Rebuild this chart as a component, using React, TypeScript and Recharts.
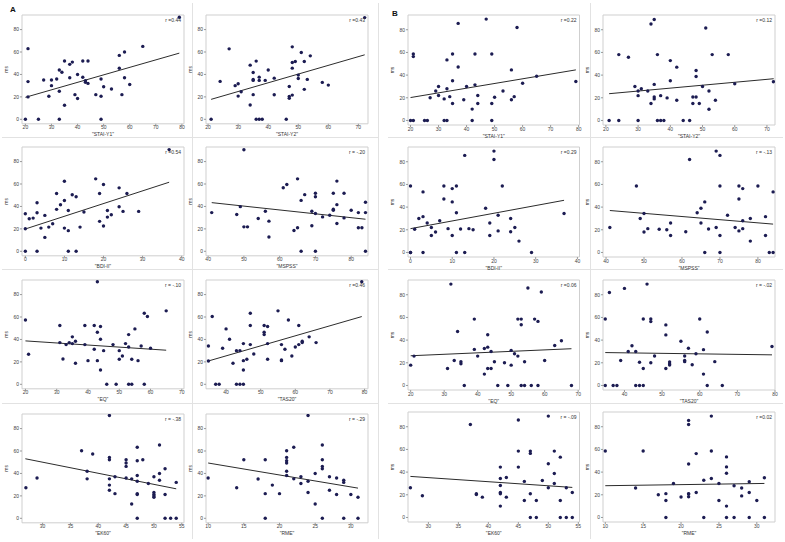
import React from 'react';
import { ScatterChart, Scatter, XAxis, YAxis, ReferenceLine, ReferenceArea, Label } from 'recharts';

type Pt = [number, number];

// ---------- Panel A (ms vs questionnaire scores) ----------
const staiY1VsMsA: Pt[] = [
  [79, 91], [21, 63], [21, 33.6], [21, 20], [20, 0], [25, 0], [27, 35], [29, 20.5], [30, 35], [30, 30],
  [32, 36], [33, 44], [33, 25], [33, 0], [34, 42], [35, 52], [35, 12.5], [37, 49], [37, 37], [38, 51],
  [39, 22], [40, 40], [40, 18.5], [42, 52], [42, 37.5], [43, 34.5], [43, 33], [44, 52], [44, 32], [47, 22],
  [49, 36], [49, 20.5], [49, 0], [50, 29], [53, 27], [56, 57], [56, 45.5], [57, 22], [58, 60], [58, 37],
  [60, 31], [65, 65],
];
const staiY2VsMsA: Pt[] = [
  [72.1, 90.7], [21, 0], [24, 33.8], [27, 62.8], [29, 30], [30, 31.7], [30, 20.7], [31, 24.6], [34, 48.3], [34, 12.7],
  [35, 41.8], [35, 35.6], [35, 34.7], [35, 22], [36, 51.9], [36, 0], [37, 37.6], [37, 34.7], [37, 0], [38, 0],
  [39, 34.7], [40, 43.9], [42, 36.7], [42, 21.9], [46, 0], [47, 29.3], [47, 20.4], [47, 18.7], [48, 64.6], [48, 50.7],
  [48, 45.6], [48, 21.6], [49, 51.6], [50, 36.4], [50, 39.4], [51, 59.6], [52, 51.6], [52, 26.7], [53, 35.6], [54, 56.6],
  [58, 32.9], [60, 30.5],
];
const bdiVsMsA: Pt[] = [
  [36.8, 90.7], [0, 33.5], [0, 20.1], [0, 0], [1, 29], [2, 29.6], [3, 43.3], [3, 34.4], [3, 0], [4, 20.7],
  [5, 32], [5, 12.4], [6, 21.6], [7, 24.6], [8, 51.6], [8, 37.4], [9, 41.5], [10, 62.5], [10, 45.3], [10, 20.7],
  [11, 36.4], [11, 18.4], [11, 0], [12, 50.4], [13, 48.6], [13, 0], [14, 21.6], [15, 35], [18, 64.6], [19, 51.6],
  [19, 26.7], [20, 59.6], [20, 22.5], [21, 36.4], [21, 30.5], [22, 32.6], [24, 56.6], [24, 39.7], [25, 35.6], [26, 51.6],
  [29, 35.6],
];
const mspssVsMsA: Pt[] = [
  [50, 90.6], [41, 34.5], [48, 32.8], [49, 39.8], [50, 21.8], [51, 21.8], [54, 29.2], [56, 35.7], [57, 26.9], [57, 12.7],
  [61, 56.7], [62, 59.6], [64, 18.6], [65, 64.6], [65, 21], [66, 45.4], [66, 0], [67, 50.5], [69, 35.7], [69, 22.8],
  [70, 51.7], [70, 48.7], [70, 33.7], [70, 0], [72, 30.7], [74, 32.2], [75, 51.7], [75, 37.5], [75, 36.6], [76, 62.6],
  [76, 41.6], [76, 24.8], [78, 51.7], [78, 29.8], [80, 36.6], [82, 34.5], [82, 21], [83, 21], [84, 43.7], [84, 34.5],
  [84, 0],
];
const eqVsMsA: Pt[] = [
  [43, 91.4], [20, 57.4], [21, 26.8], [31, 52.4], [31, 37.2], [32, 22.6], [33, 35.4], [34, 37.2], [35, 42.3], [35, 36.3],
  [36, 38.4], [36, 18.8], [39, 52.4], [39, 35.4], [40, 21.1], [42, 52.4], [42, 31.2], [43, 46.4], [43, 21.1], [44, 51.5],
  [44, 40.2], [44, 12.8], [45, 30], [46, 0], [48, 35.4], [49, 0], [50, 30], [50, 22.3], [51, 25.3], [52, 36.3],
  [53, 44.3], [53, 33.3], [53, 0], [54, 0], [54, 22.3], [55, 49.4], [56, 21.1], [57, 34.2], [58, 0], [58, 63.4],
  [59, 60.4], [60, 32.1], [65, 65.5],
];
const tas20VsMsA: Pt[] = [
  [79.2, 91.4], [34.9, 34.2], [34.9, 20.8], [36, 60.4], [37, 0], [38, 0], [39, 32.1], [40, 49.4], [41, 40.2], [42, 18.8],
  [43, 0], [43, 30], [44, 0], [44, 30], [45, 36.3], [45, 21.1], [45, 12.8], [45, 0], [46, 22.3], [47, 63.4],
  [47, 52.4], [47, 35.4], [48, 27], [51, 52.4], [51, 46.4], [51, 44.3], [52, 51.5], [52, 36.3], [52, 22.3], [55, 65.5],
  [56, 35.4], [56, 21.7], [56, 21.1], [57, 31.2], [58, 57.4], [59, 25.3], [60, 33.3], [61, 52.4], [61, 35.4], [62, 37.2],
  [62, 38.4], [64, 42.3], [66, 37.2],
];
const ek60VsMsA: Pt[] = [
  [42, 91.6], [27, 27.2], [29, 36], [37, 60.3], [39, 57.3], [38, 42], [38, 35.2], [42, 54.3], [42, 52.2], [42, 35.2],
  [42, 29.6], [42, 25], [43, 37], [43, 22], [45, 52.2], [45, 49.3], [45, 46.3], [45, 36], [46, 12.8], [46, 35.2],
  [47, 63.3], [47, 51.3], [47, 38.2], [47, 33.1], [47, 22], [47, 21.2], [47, 0], [48, 52.2], [49, 31], [50, 37],
  [50, 23], [50, 21.2], [50, 20], [50, 18.8], [51, 65.4], [51, 40], [51, 34], [52, 44.2], [52, 21.2], [52, 0],
  [53, 0], [54, 32], [54, 0],
];
const rmeVsMsA: Pt[] = [
  [24, 91.6], [10, 36], [14, 27.2], [15, 52.2], [17, 35], [18, 52.2], [18, 22], [18, 0], [19, 29.6], [20, 22],
  [21, 60.3], [21, 54.3], [21, 51.3], [21, 49.3], [21, 42], [21, 38.2], [22, 63.3], [22, 35.2], [23, 37], [23, 31],
  [24, 33.1], [24, 23], [25, 40], [25, 12.8], [26, 65.4], [26, 52.2], [26, 46.3], [26, 44.2], [26, 0], [27, 37],
  [27, 25], [28, 36], [28, 21.2], [29, 34], [29, 32], [29, 0], [30, 21.2], [31, 18.8], [31, 0],
];

// ---------- Panel B ----------
const staiY1VsMsB: Pt[] = [
  [20, 0], [21, 0], [21, 58.6], [21, 56.3], [25, 0], [26, 0], [27, 20], [29, 26], [30, 30], [30, 22],
  [32, 19], [32, 0], [33, 53.4], [33, 27.9], [33, 0], [34, 21], [35, 35], [35, 58.6], [35, 15], [37, 85.6],
  [37, 47.2], [39, 18.2], [40, 30], [42, 10], [42, 0], [43, 58.6], [43, 31.4], [44, 22], [44, 15], [47, 89.4],
  [49, 58.6], [49, 15], [49, 0], [50, 20.5], [53, 26], [56, 44.6], [56, 18.2], [57, 21], [58, 82], [60, 32.8],
  [65, 39], [79, 34.3],
];
const staiY2VsMsB: Pt[] = [
  [21, 0], [24, 0], [24, 58.1], [27, 55.8], [29, 30], [30, 26], [30, 21.9], [30, 0], [31, 28], [33, 26],
  [34, 14.9], [34, 85], [35, 89], [35, 31.8], [35, 20.7], [35, 19], [36, 58.1], [36, 0], [37, 21.9], [37, 0],
  [38, 0], [39, 19.9], [40, 52.8], [40, 35], [42, 47], [42, 17.8], [44, 0], [46, 0], [47, 20.7], [47, 14.9],
  [48, 44], [48, 38.8], [48, 20.7], [49, 14.9], [50, 30], [51, 81.5], [52, 26], [52, 9.9], [53, 58.1], [54, 17.8],
  [58, 58.1], [60, 32.4], [72, 34.2],
];
const bdiVsMsB: Pt[] = [
  [36.8, 34.3], [0, 58.6], [0, 0], [0, 0], [1, 20.5], [2, 30], [3, 53.4], [3, 31.6], [3, 0], [4, 26],
  [5, 22], [5, 15], [6, 18], [7, 28], [8, 58.6], [8, 47.2], [9, 21], [10, 56.3], [10, 44.6], [10, 15],
  [11, 58.6], [11, 35], [11, 0], [12, 20.7], [13, 85.6], [13, 0], [14, 21], [15, 20], [18, 39], [19, 15],
  [19, 26], [20, 82], [20, 89.4], [21, 19], [21, 32.8], [22, 58.6], [24, 18.2], [24, 30], [25, 22], [26, 10],
  [29, 0],
];
const mspssVsMsB: Pt[] = [
  [50, 34.3], [41, 22], [48, 58.6], [49, 30], [50, 18], [51, 21], [54, 20.5], [56, 20], [57, 26], [57, 15],
  [61, 18.2], [62, 82], [64, 35], [65, 39], [65, 26], [66, 44.6], [66, 0], [67, 20.7], [69, 22], [69, 89.4],
  [70, 15], [70, 85.6], [70, 58.6], [70, 0], [72, 32.8], [74, 22], [75, 58.6], [75, 47.2], [75, 19], [76, 56.3],
  [76, 21], [76, 28], [78, 10], [78, 30], [80, 58.6], [82, 31.6], [82, 15], [83, 0], [84, 53.4], [84, 0],
];
const eqVsMsB: Pt[] = [
  [20, 17.9], [21, 25.9], [31, 15], [32, 89.4], [33, 22], [34, 47.6], [35, 20.9], [35, 19.1], [36, 0], [39, 58.5],
  [39, 31.8], [40, 25.9], [42, 32.6], [42, 10], [43, 44.7], [43, 33.8], [43, 15], [44, 30], [44, 15], [45, 20.9],
  [46, 0], [48, 20], [49, 0], [50, 30.9], [50, 17.9], [51, 27.9], [52, 25.9], [52, 58.5], [53, 58.5], [53, 53.5],
  [53, 0], [54, 20.9], [54, 0], [55, 85.9], [56, 0], [57, 58.5], [58, 56.5], [58, 0], [59, 82.4], [60, 22],
  [63, 35.3], [65, 39.4], [68, 0],
];
const tas20VsMsB: Pt[] = [
  [79.2, 34.3], [34.9, 58.6], [34.9, 0], [36, 82], [37, 0], [38, 0], [39, 22], [40, 85.6], [41, 30], [42, 35],
  [43, 0], [43, 30], [44, 0], [44, 20.5], [45, 58.6], [45, 15], [45, 0], [46, 89.4], [47, 56.3], [47, 58.6],
  [47, 20], [48, 26], [51, 15], [51, 44.6], [51, 53.4], [52, 20.7], [52, 19], [52, 18], [55, 39], [56, 22],
  [56, 21], [56, 26], [57, 32.8], [58, 18.2], [59, 28], [60, 58.6], [61, 10], [61, 31.6], [62, 47.2], [62, 0],
  [64, 21], [66, 0],
];
const ek60VsMsB: Pt[] = [
  [27, 26.2], [29, 19.1], [37, 82], [38, 20.9], [38, 20.3], [39, 17.9], [42, 44.4], [42, 34.4], [42, 28.2], [42, 22],
  [42, 20.9], [42, 10], [43, 35.3], [43, 17.9], [45, 85.9], [45, 58.5], [45, 44.4], [46, 31.8], [46, 15], [47, 58.5],
  [47, 56.5], [47, 20.9], [47, 0], [48, 15], [48, 0], [49, 32.6], [50, 89.4], [50, 47.4], [50, 26.2], [51, 58.5],
  [51, 38.8], [51, 30], [52, 53.2], [52, 15], [52, 0], [53, 26.2], [53, 0], [54, 22], [54, 0],
];
const rmeVsMsB: Pt[] = [
  [24, 34.3], [10, 58.6], [14, 26], [15, 58.6], [17, 20], [18, 15], [18, 21], [18, 0], [19, 30], [20, 18],
  [21, 82], [21, 18.2], [21, 20.7], [21, 85.6], [21, 21], [21, 47.2], [22, 56.3], [22, 22], [23, 0], [23, 32.8],
  [24, 58.6], [24, 89.4], [25, 30], [25, 15], [26, 39], [26, 10], [26, 44.6], [26, 53.4], [26, 0], [27, 0],
  [27, 28], [28, 19], [28, 26], [29, 31.6], [29, 22], [29, 0], [30, 15], [31, 35], [31, 0],
];

// regression line endpoints [x1, y1, x2, y2]
const fitLines: [number, number, number, number][] = [
  [20, 19.6, 79, 59], [21, 17.8, 72.1, 57.5], [0, 19.9, 36.8, 61.6], [41, 43.4, 84, 28.6],
  [20, 38.7, 65, 30.4], [34.9, 20.8, 79.2, 60.4], [26.9, 53.1, 54, 26.3], [10, 49.3, 31, 26.9],
  [20, 20.2, 79, 44.6], [21, 23.6, 72.1, 36.8], [0, 21, 36.8, 46], [41, 37, 84, 25],
  [20, 26.2, 68, 32.4], [34.9, 29, 79.2, 27], [27, 36.2, 54, 26.5], [10, 28, 31, 30],
];
const rLabels = [
  'r =0.44', 'r =0.43', 'r =0.54', 'r = -.20', 'r = -.10', 'r =0.46', 'r = -.38', 'r = -.29',
  'r =0.22', 'r =0.12', 'r =0.29', 'r = -.13', 'r =0.06', 'r = -.02', 'r = -.09', 'r =0.02',
];
const varLabels = ['"STAI-Y1"', '"STAI-Y2"', '"BDI-II"', '"MSPSS"', '"EQ"', '"TAS20"', '"EK60"', '"RME"'];
const xTickSets: number[][] = [
  [20, 30, 40, 50, 60, 70, 80], [20, 30, 40, 50, 60, 70], [0, 10, 20, 30, 40], [40, 50, 60, 70, 80],
  [20, 30, 40, 50, 60, 70], [40, 50, 60, 70, 80], [30, 35, 40, 45, 50, 55], [10, 15, 20, 25, 30],
];
const xDomainsA: [number, number][] = [
  [18.7, 80.8], [19.3, 73.2], [-0.85, 40.6], [39.4, 84.7], [18.9, 70.7], [34.2, 81.0], [26.3, 55.4], [9.7, 32.4],
];
const xDomainsB: [number, number][] = [
  [19.1, 80.3], [19.1, 72.5], [-0.6, 40.5], [39.2, 84.5], [19.2, 70.4], [34.3, 80.0], [26.6, 55.2], [9.7, 32.4],
];
const yTicks = [0, 20, 40, 60, 80];
const yDomain: [number, number] = [-4, 93];

const seriesA = [staiY1VsMsA, staiY2VsMsA, bdiVsMsA, mspssVsMsA, eqVsMsA, tas20VsMsA, ek60VsMsA, rmeVsMsA];
const seriesB = [staiY1VsMsB, staiY2VsMsB, bdiVsMsB, mspssVsMsB, eqVsMsB, tas20VsMsB, ek60VsMsB, rmeVsMsB];

// layout
const colsA = [{ x: 22, w: 162 }, { x: 205.5, w: 162 }];
const colsB = [{ x: 407.5, w: 171.5 }, { x: 603, w: 172 }];
const rowsA = [15, 146.5, 280, 414];
const rowsB = [15, 147, 280, 412];
const hA = 108.8;
const hB = 110;

const ML = 20;
const MT = 4;
const MR = 4;
const XH = 14;
const FONT = 5;

const dot = (p: any) => <circle cx={p.cx} cy={p.cy} r={1.7} fill="#1c1c52" />;

const msLabel = (props: any) => {
  const vb = props.viewBox || {};
  const cx = vb.x + 4;
  const cy = vb.y + vb.height / 2;
  return (
    <text x={cx} y={cy} transform={`rotate(-90 ${cx} ${cy})`} textAnchor="middle" dominantBaseline="central" fontSize={FONT} fill="#333">
      ms
    </text>
  );
};

function Plot(props: {
  pts: Pt[]; line: [number, number, number, number]; r: string; label: string;
  xDomain: [number, number]; xTicks: number[]; fx: number; fy: number; fw: number; fh: number;
}) {
  const { pts, line, r, label, xDomain, xTicks, fx, fy, fw, fh } = props;
  const data = pts.map(([x, y]) => ({ x, y }));
  return (
    <div style={{ position: 'absolute', left: fx - ML, top: fy - MT }}>
      <ScatterChart width={fw + ML + MR} height={fh + MT + XH} margin={{ top: MT, right: MR, bottom: 0, left: 0 }}>
        <XAxis
          type="number" dataKey="x" domain={xDomain} ticks={xTicks} allowDataOverflow interval={0}
          height={XH} tickSize={2} tickMargin={0} axisLine={false} stroke="#9a9a9a"
          tick={{ fontSize: FONT, fill: '#444' }}
        >
          <Label value={label} position="insideBottom" offset={1.5} style={{ fontSize: FONT, fill: '#333' }} />
        </XAxis>
        <YAxis
          type="number" dataKey="y" domain={yDomain} ticks={yTicks} allowDataOverflow interval={0}
          width={ML} tickSize={2} tickMargin={1} axisLine={false} stroke="#9a9a9a"
          tick={{ fontSize: FONT, fill: '#444' }}
        >
          <Label content={msLabel} />
        </YAxis>
        <ReferenceArea
          x1={xDomain[0]} x2={xDomain[1]} y1={yDomain[0]} y2={yDomain[1]}
          fill="none" stroke="#cfcfcf" strokeWidth={1} ifOverflow="visible"
          label={{ value: r, position: 'insideTopRight', offset: 3, fontSize: FONT, fill: '#333' }}
        />
        <Scatter data={data} shape={dot} isAnimationActive={false} />
        <ReferenceLine
          segment={[{ x: line[0], y: line[1] }, { x: line[2], y: line[3] }]}
          stroke="#2b2b2b" strokeWidth={1} ifOverflow="visible"
        />
      </ScatterChart>
    </div>
  );
}

const cellLine = '1px solid #e2e2e2';

export default function App() {
  const plots: React.ReactNode[] = [];
  for (let i = 0; i < 8; i++) {
    const row = Math.floor(i / 2);
    const col = i % 2;
    plots.push(
      <Plot key={'a' + i} pts={seriesA[i]} line={fitLines[i]} r={rLabels[i]} label={varLabels[i]}
        xDomain={xDomainsA[i]} xTicks={xTickSets[i]} fx={colsA[col].x} fy={rowsA[row]} fw={colsA[col].w} fh={hA} />
    );
    plots.push(
      <Plot key={'b' + i} pts={seriesB[i]} line={fitLines[8 + i]} r={rLabels[8 + i]} label={varLabels[i]}
        xDomain={xDomainsB[i]} xTicks={xTickSets[i]} fx={colsB[col].x} fy={rowsB[row]} fw={colsB[col].w} fh={hB} />
    );
  }
  const hLines = [137, 269, 403];
  return (
    <div style={{ position: 'absolute', left: 0, top: 0, width: 785, height: 542, background: '#fff', fontFamily: '"Liberation Sans", Arial, sans-serif', overflow: 'hidden' }}>
      {hLines.map((y) => (
        <React.Fragment key={y}>
          <div style={{ position: 'absolute', left: 2, top: y, width: 376, height: 0, borderTop: cellLine }} />
          <div style={{ position: 'absolute', left: 388, top: y, width: 395, height: 0, borderTop: cellLine }} />
        </React.Fragment>
      ))}
      <div style={{ position: 'absolute', left: 192, top: 3, width: 0, height: 536, borderLeft: cellLine }} />
      <div style={{ position: 'absolute', left: 378, top: 3, width: 0, height: 536, borderLeft: cellLine }} />
      <div style={{ position: 'absolute', left: 590, top: 3, width: 0, height: 536, borderLeft: cellLine }} />
      {plots}
      <div style={{ position: 'absolute', left: 10, top: 5, fontSize: 8, fontWeight: 'bold', color: '#111' }}>A</div>
      <div style={{ position: 'absolute', left: 392, top: 9, fontSize: 8, fontWeight: 'bold', color: '#111' }}>B</div>
    </div>
  );
}
